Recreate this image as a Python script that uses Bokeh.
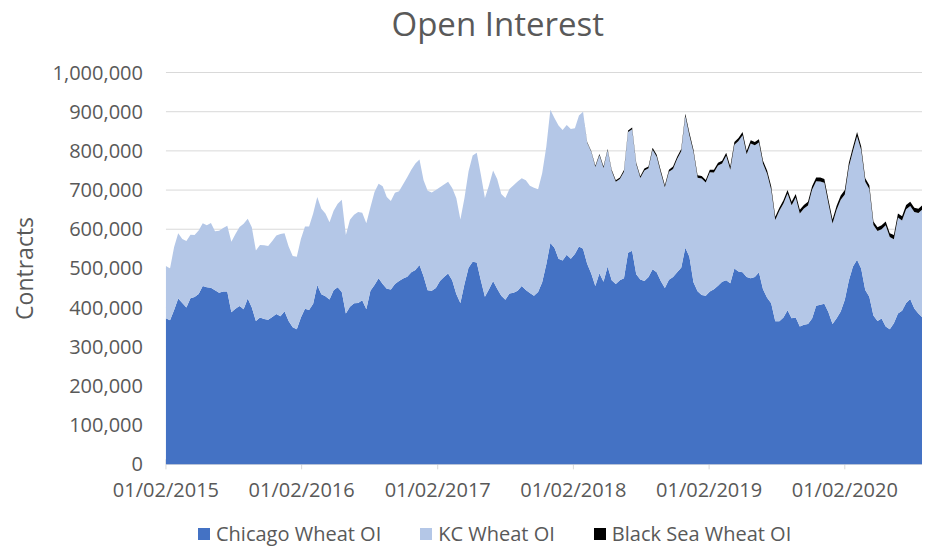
import math
import pandas as pd
from bokeh.plotting import figure
from bokeh.core.properties import value
from bokeh.models import ColumnDataSource, Range1d, Legend, LegendItem, Title
from bokeh.embed import file_html
from bokeh.resources import INLINE

# ---------------- data ----------------
start_date = "2015-01-02"
n_points = 188
sample_step = "11D"
end_date = "2020-07-29"    # right edge of the visible plot area
view_start = "2013-10-14"  # left edge of the page area used for the value labels

chicago = [
    373000, 368000, 394000, 423000, 412000, 400000, 424000, 427000, 435000, 455000,
    452000, 451000, 444000, 438000, 441000, 441000, 388000, 397000, 404000, 396000,
    423000, 400000, 366000, 375000, 371000, 369000, 376000, 384000, 378000, 391000,
    366000, 350000, 345000, 375000, 397000, 394000, 410000, 458000, 434000, 429000,
    421000, 444000, 452000, 440000, 385000, 402000, 411000, 412000, 419000, 396000,
    443000, 458000, 475000, 460000, 448000, 446000, 460000, 468000, 474000, 479000,
    490000, 496000, 509000, 480000, 444000, 443000, 450000, 468000, 478000, 487000,
    470000, 435000, 412000, 460000, 502000, 517000, 515000, 470000, 428000, 447000,
    468000, 448000, 430000, 420000, 436000, 438000, 443000, 455000, 445000, 437000,
    430000, 440000, 465000, 510000, 565000, 553000, 525000, 520000, 535000, 525000,
    537000, 556000, 550000, 512000, 487000, 455000, 488000, 466000, 505000, 470000,
    460000, 470000, 475000, 540000, 545000, 485000, 472000, 468000, 478000, 498000,
    490000, 468000, 450000, 471000, 478000, 490000, 502000, 553000, 530000, 465000,
    442000, 432000, 430000, 441000, 447000, 456000, 466000, 470000, 462000, 500000,
    492000, 490000, 478000, 475000, 478000, 490000, 447000, 425000, 411000, 365000,
    365000, 375000, 393000, 373000, 375000, 352000, 356000, 358000, 372000, 405000,
    407000, 410000, 388000, 358000, 373000, 390000, 420000, 470000, 505000, 522000,
    500000, 445000, 428000, 380000, 366000, 372000, 352000, 345000, 360000, 385000,
    392000, 412000, 422000, 398000, 385000, 375000, 390000, 407000,
]

kc = [
    133000, 132000, 161000, 167000, 163000, 170000, 162000, 158000, 162000, 160000,
    158000, 165000, 151000, 158000, 162000, 168000, 180000, 191000, 202000, 218000,
    204000, 205000, 180000, 185000, 188000, 188000, 194000, 200000, 210000, 199000,
    190000, 182000, 185000, 200000, 210000, 213000, 230000, 224000, 218000, 211000,
    197000, 203000, 213000, 235000, 200000, 222000, 226000, 232000, 223000, 219000,
    213000, 237000, 241000, 250000, 234000, 226000, 233000, 229000, 241000, 254000,
    262000, 272000, 269000, 245000, 254000, 251000, 250000, 239000, 236000, 234000,
    235000, 245000, 213000, 220000, 246000, 271000, 280000, 270000, 252000, 265000,
    282000, 280000, 260000, 260000, 267000, 274000, 279000, 275000, 280000, 274000,
    276000, 262000, 278000, 300000, 340000, 331000, 340000, 333000, 331000, 331000,
    321000, 334000, 350000, 309000, 310500, 304000, 301000, 290500, 297000, 278500,
    261000, 258500, 272000, 308000, 310500, 281000, 258500, 282000, 277500, 305000,
    295000, 276500, 257000, 275500, 276000, 289500, 297000, 336000, 309500, 332000,
    289500, 297500, 289000, 304500, 298000, 306500, 302000, 317500, 290000, 315500,
    333000, 350000, 313500, 344000, 336500, 331500, 320000, 316500, 290000, 258500,
    282000, 290500, 298000, 288500, 306000, 288500, 297000, 302500, 329000, 317500,
    315000, 308500, 277000, 256500, 277000, 285500, 269000, 289500, 294500, 315500,
    302000, 276000, 274500, 231000, 229500, 228000, 258500, 235000, 214500, 245000,
    230500, 239000, 237500, 246000, 256500, 276000, 273500, 268000,
]

black_sea = [0] * 103 + [
    2000, 2500, 3000, 3000, 3500, 3000, 3500,
    4000, 3500, 4000, 4000, 4500, 4000, 4500, 5000, 4500, 5000,
    5000, 5500, 5000, 5500, 6000, 5500, 6000, 6000, 6500, 6000,
    6500, 6500, 7000, 6500, 7000, 7500, 7000, 7500, 8000, 7500,
    8000, 8000, 8500, 8000, 8500, 8500, 8000, 8500, 9000, 8500,
    8000, 8500, 9000, 8500, 9000, 9500, 9000, 9500, 9000, 9500,
    10000, 9500, 10000, 10500, 10000, 10500, 11000, 10500, 10500, 10500,
    10000, 9000, 9500, 9000, 9500, 10000, 9500, 10000, 10500, 10000,
    10500, 11000, 10500, 11000, 10500, 11000, 11500, 11000,
]

series_names = ["Chicago Wheat OI", "KC Wheat OI", "Black Sea Wheat OI"]
series_colors = ["#4472C4", "#B4C7E7", "#000000"]
tick_dates = ["2015-01-02", "2016-01-02", "2017-01-02", "2018-01-02", "2019-01-02", "2020-01-02"]
tick_labels = ["01/02/2015", "01/02/2016", "01/02/2017", "01/02/2018", "01/02/2019", "01/02/2020"]
y_ticks = [0, 100000, 200000, 300000, 400000, 500000, 600000, 700000, 800000, 900000, 1000000]
y_tick_labels = ["0", "100,000", "200,000", "300,000", "400,000", "500,000", "600,000",
                 "700,000", "800,000", "900,000", "1,000,000"]
y_title = "Contracts"
chart_title = "Open Interest"

# ---------------- chart ----------------
FONT = "Open Sans"
TXT = "#595959"
GRID = "#D9D9D9"

t0 = pd.Timestamp(start_date)
t1 = pd.Timestamp(end_date)
dates = pd.date_range(start_date, periods=n_points, freq=sample_step)
source = ColumnDataSource(dict(date=dates, chicago=chicago, kc=kc, black_sea=black_sea))
xtick_src = ColumnDataSource(dict(date=pd.to_datetime(tick_dates), y=[0] * len(tick_dates),
                                  label=tick_labels))
ytick_src = ColumnDataSource(dict(x0=[t0] * len(y_ticks), x1=[t1] * len(y_ticks),
                                  y=y_ticks, label=y_tick_labels))

# Axes are drawn with the library's scales (text / segment glyphs) so that the
# whole page area, including the date labels and legend, lies inside the frame.
p = figure(width=922, height=547, x_axis_location=None, y_axis_location=None,
           output_backend="svg", toolbar_location=None,
           x_range=Range1d(pd.Timestamp(view_start), t1),
           y_range=Range1d(-212276, 1033248),
           min_border=0, min_border_left=0, min_border_right=0,
           min_border_top=52, min_border_bottom=0)
p.outline_line_color = None
p.background_fill_color = "white"
p.border_fill_color = "white"
p.xgrid.visible = False
p.ygrid.visible = False

# horizontal gridlines (value ticks) and date tick marks
p.segment(x0="x0", x1="x1", y0="y", y1="y", source=ytick_src, line_color=GRID, line_width=1)
p.scatter(x="date", y="y", source=xtick_src, marker="dash", angle=math.pi / 2, size=10,
          line_color=GRID, line_width=1)

renderers = p.varea_stack(["chicago", "kc", "black_sea"], x="date",
                          color=series_colors, source=source)

# value labels
p.text(x="x0", y="y", text="label", source=ytick_src, text_align="right",
       text_baseline="middle", x_offset=-23, text_font=value(FONT),
       text_font_size="20px", text_color=TXT)
# date labels
p.text(x="date", y="y", text="label", source=xtick_src, text_align="center",
       text_baseline="middle", y_offset=25, text_font=value(FONT),
       text_font_size="20px", text_color=TXT)
# value-axis title
p.text(x=[t0], y=[500000], text=[y_title], angle=math.pi / 2, x_offset=-142,
       text_align="center", text_baseline="middle", text_font=value(FONT),
       text_font_size="23px", text_color=TXT)

p.title = Title(text=chart_title, align="left", offset=391,
                text_font=FONT, text_font_size="33px", text_font_style="normal",
                text_color=TXT, standoff=0, vertical_align="top",
                padding=dict(left=0, right=0, top=0, bottom=12))

legend = Legend(items=[LegendItem(label=n, renderers=[r]) for n, r in zip(series_names, renderers)],
                orientation="horizontal", location=(196, 0),
                label_text_font=FONT, label_text_font_size="20px", label_text_color=TXT,
                glyph_width=15, glyph_height=15, label_standoff=5, spacing=37,
                padding=0, margin=0, border_line_color=None, background_fill_alpha=0)
p.add_layout(legend, "center")

open("out.html", "w").write(file_html(p, INLINE))
